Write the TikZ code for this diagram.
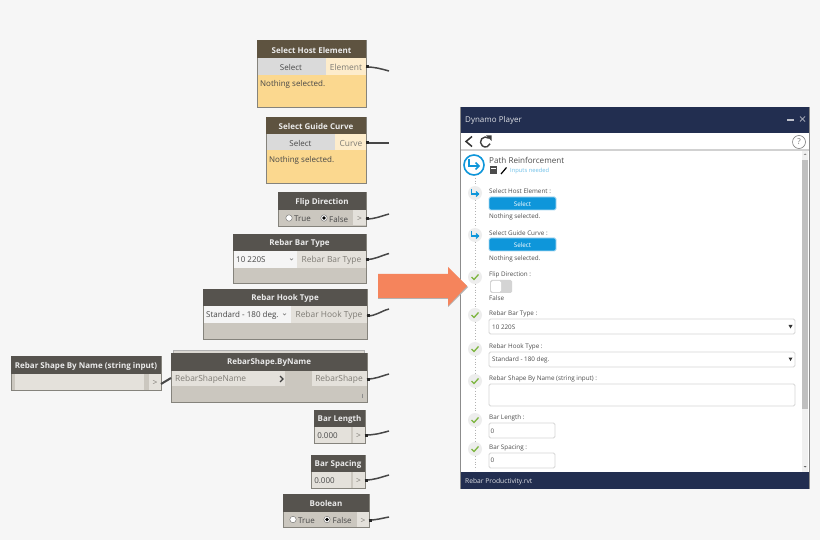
\documentclass[tikz,border=0pt]{standalone}
\usepackage{fontspec}
\setmainfont{Open Sans}
\definecolor{pagebg}{HTML}{F6F6F6}
\definecolor{headdark}{HTML}{56534E}
\definecolor{headbrown}{HTML}{5E5340}
\definecolor{nodebody}{HTML}{CBC7BF}
\definecolor{noderow}{HTML}{E4E1DB}
\definecolor{noteyellow}{HTML}{FBD88F}
\definecolor{portyellow}{HTML}{FDECCB}
\definecolor{btngrey}{HTML}{DADADA}
\definecolor{edgegrey}{HTML}{85837C}
\definecolor{labelgrey}{HTML}{7F7C75}
\definecolor{navy}{HTML}{222E50}
\definecolor{playerblue}{HTML}{0E96DA}
\definecolor{stepgrey}{HTML}{EDEDED}
\definecolor{checkgreen}{HTML}{7DB53F}
\definecolor{arroworange}{HTML}{F5845C}
\tikzset{
  headtext/.style={inner sep=0pt, yshift=-0.8pt, text=white!92!black, font=\fontsize{8}{10}\selectfont\bfseries},
  celltext/.style={inner sep=0pt, yshift=-0.6pt, text=black!72, font=\fontsize{8}{10}\selectfont},
  porttext/.style={inner sep=0pt, yshift=-0.6pt, text=labelgrey, font=\fontsize{8.4}{10}\selectfont},
  uitext/.style={inner sep=0pt, yshift=-0.8pt, anchor=west, text=black!70, font=\fontsize{6.3}{8}\selectfont},
  portdot/.style={inner sep=0pt, minimum width=1pt, minimum height=1pt},
  nodebox/.style={draw=edgegrey, line width=0.8pt},
  wire/.style={draw=black!72, line width=1.5pt},
  radio/.style={draw=black!60, fill=white, line width=0.4pt},
  inputbox/.style={draw=black!16, fill=white, line width=0.8pt, rounded corners=1.5pt},
  bluebtn/.style={fill=playerblue, draw=playerblue!35, line width=0.8pt, rounded corners=1.5pt},
}
\begin{document}
\begin{tikzpicture}[x=1pt, y=-1pt]
  \useasboundingbox (0,0) rectangle (820,540);
  \fill[pagebg] (0,0) rectangle (820,540);

  % select host element
  \draw[nodebox, fill=noteyellow] (257,40) rectangle (366,107);
  \fill[headbrown] (257,40) rectangle (366,58);
  \fill[btngrey] (257.5,58) rectangle (326,75);
  \fill[portyellow] (326,58) rectangle (365.5,75);
  \node[headtext] (hostHead) at (311.5,49.5) {Select Host Element};
  \node[celltext] (hostBtn) at (291,67) {Select};
  \node[porttext] (hostOut) at (346,67) {Element};
  \node[celltext, anchor=west] (hostMsg) at (260,84) {Nothing selected.};

  % select guide curve
  \draw[nodebox, fill=noteyellow] (266,117) rectangle (366,183);
  \fill[headbrown] (266,117) rectangle (366,134);
  \fill[btngrey] (266.5,134) rectangle (335,150);
  \fill[portyellow] (335,134) rectangle (365.5,150);
  \node[headtext] (curveHead) at (316,125.5) {Select Guide Curve};
  \node[celltext] (curveBtn) at (300.5,143) {Select};
  \node[porttext] (curveOut) at (351,143) {Curve};
  \node[celltext, anchor=west] (curveMsg) at (269,160) {Nothing selected.};

  % flip direction
  \draw[nodebox, fill=nodebody] (278,192) rectangle (366,226);
  \fill[headdark] (278,192) rectangle (366,210);
  \fill[noderow] (353,210) rectangle (365.5,225.5);
  \node[headtext] (flipHead) at (322,201.5) {Flip Direction};
  \draw[radio] (289,218) circle (3.2);
  \node[celltext, anchor=west] (flipTrue) at (294,218.5) {True};
  \draw[radio] (324,218) circle (3.2);
  \fill[black] (324,218) circle (1.8);
  \node[celltext, anchor=west] (flipFalse) at (329,218.5) {False};
  \node[porttext] (flipOut) at (359.5,218.5) {>};

  % rebar bar type
  \draw[nodebox, fill=nodebody] (233,234) rectangle (366,283);
  \fill[headdark] (233,234) rectangle (366,251);
  \fill[noderow] (297,251) rectangle (365.5,268);
  \fill[black!4] (233.5,251) rectangle (297,268);
  \node[headtext] (barHead) at (299.5,242.5) {Rebar Bar Type};
  \node[celltext, anchor=west] (barSel) at (236,259.5) {10 220S};
  \draw[black!55, line width=0.6pt] (290,258.5) -- (291.5,260) -- (293,258.5);
  \node[porttext] (barOut) at (331.5,260) {Rebar Bar Type};

  % rebar hook type
  \draw[nodebox, fill=nodebody] (203,289) rectangle (367,339);
  \fill[headdark] (203,289) rectangle (367,306);
  \fill[noderow] (291,306) rectangle (366.5,323);
  \fill[black!4] (203.5,306) rectangle (291,323);
  \node[headtext] (hookHead) at (285,298) {Rebar Hook Type};
  \node[celltext, anchor=west] (hookSel) at (206,314.5) {Standard - 180 deg.};
  \draw[black!55, line width=0.6pt] (283,313.5) -- (284.5,315) -- (286,313.5);
  \node[porttext] (hookOut) at (329,315) {Rebar Hook Type};

  % string input
  \draw[nodebox, fill=nodebody] (11,356) rectangle (161,390);
  \fill[headdark] (11,356) rectangle (161,374);
  \fill[noderow] (15,374) rectangle (144,389.5);
  \fill[noderow] (149,374) rectangle (160.5,389.5);
  \node[headtext] (nameHead) at (86,365.5) {Rebar Shape By Name (string input)};
  \node[porttext] (nameOut) at (155,382.5) {>};

  % rebar shape by name
  \draw[black!30, fill=nodebody!70] (173,350.5) rectangle (364,356);
  \draw[nodebox, fill=nodebody] (171,353) rectangle (367,402);
  \fill[headdark] (171,353) rectangle (367,371);
  \fill[noderow] (171.5,371) rectangle (285,386);
  \fill[noderow] (312,371) rectangle (366.5,386);
  \node[headtext] (shapeHead) at (269,362) {RebarShape.ByName};
  \node[porttext, anchor=west] (shapeIn) at (175,379) {RebarShapeName};
  \node[porttext] (shapeOut) at (339,379) {RebarShape};
  \draw[black!75, line width=1.1pt] (280,376) -- (283,379) -- (280,382);
  \draw[black!45, line width=0.5pt] (362,393.5) -- (362,398);

  % bar length
  \draw[nodebox, fill=nodebody] (314,410) rectangle (365,443);
  \fill[headdark] (314,410) rectangle (365,427);
  \fill[noderow] (314.5,427) rectangle (351,442.5);
  \fill[noderow] (353,427) rectangle (364.5,442.5);
  \node[headtext] (lengthHead) at (339.5,418.5) {Bar Length};
  \node[celltext] (lengthVal) at (327.5,435.5) {0.000};
  \node[porttext] (lengthOut) at (358.5,435.5) {>};

  % bar spacing
  \draw[nodebox, fill=nodebody] (311,455) rectangle (365,488);
  \fill[headdark] (311,455) rectangle (365,472);
  \fill[noderow] (311.5,472) rectangle (351,487.5);
  \fill[noderow] (353,472) rectangle (364.5,487.5);
  \node[headtext] (spacingHead) at (338,463.5) {Bar Spacing};
  \node[celltext] (spacingVal) at (324.5,480.5) {0.000};
  \node[porttext] (spacingOut) at (358.5,480.5) {>};

  % boolean
  \draw[nodebox, fill=nodebody] (283,494) rectangle (369,527);
  \fill[headdark] (283,494) rectangle (369,512);
  \fill[noderow] (357,512) rectangle (368.5,526.5);
  \node[headtext] (boolHead) at (326,503) {Boolean};
  \draw[radio] (293,519.5) circle (3.2);
  \node[celltext, anchor=west] (boolTrue) at (298,520) {True};
  \draw[radio] (327,519.5) circle (3.2);
  \fill[black] (327,519.5) circle (1.8);
  \node[celltext, anchor=west] (boolFalse) at (332.5,520) {False};
  \node[porttext] (boolOut) at (363,520) {>};

  % wires
  \node[portdot] (hostPort) at (366,67) {};
  \node[portdot] (curvePort) at (366,143) {};
  \node[portdot] (flipPort) at (366,219) {};
  \node[portdot] (barPort) at (366,259.5) {};
  \node[portdot] (hookPort) at (367,316) {};
  \node[portdot] (namePort) at (161,384) {};
  \node[portdot] (shapeIn2) at (171,378) {};
  \node[portdot] (shapePort) at (367,379) {};
  \node[portdot] (lengthPort) at (365,435) {};
  \node[portdot] (spacingPort) at (365,480) {};
  \node[portdot] (boolPort) at (369,520) {};
  \coordinate (hostEnd) at (389,71);
  \coordinate (curveEnd) at (389,143);
  \coordinate (flipEnd) at (389,214);
  \coordinate (barEnd) at (389,253.5);
  \coordinate (hookEnd) at (389,309);
  \coordinate (shapeEnd) at (389,374);
  \coordinate (lengthEnd) at (389,431);
  \coordinate (spacingEnd) at (389,475);
  \coordinate (boolEnd) at (389,517);
  \foreach \a/\b/\o/\i in {hostPort/hostEnd/0/165, curvePort/curveEnd/0/180, flipPort/flipEnd/0/195,
      barPort/barEnd/0/195, hookPort/hookEnd/0/195, shapePort/shapeEnd/0/195,
      lengthPort/lengthEnd/0/195, spacingPort/spacingEnd/0/195, boolPort/boolEnd/0/190}{
    \draw[wire] (\a.center) to[out=\o, in=\i] (\b);
    \draw[wire, line width=3pt, black!85] (\a.center) -- ++(2.5,0);
  }
  \draw[wire, line width=2pt] (namePort.center) -- (shapeIn2.center);

  % player window
  \fill[white] (460,107) rectangle (810,489);
  \fill[navy] (460,107) rectangle (810,133);
  \fill[navy] (460,472) rectangle (810,489);
  \fill[black!18] (460,149.5) rectangle (810,151);
  \draw[black!45, line width=0.7pt] (460.3,107) -- (460.3,489);
  \draw[black!45, line width=0.7pt] (809.7,107) -- (809.7,489);
  \node[uitext, text=white!85!navy, font=\fontsize{8}{10}\selectfont] (playerTitle) at (465,119.5) {Dynamo Player};
  \draw[white!70!navy, line width=1.2pt] (787,120) -- (794,120);
  \draw[white!55!navy, line width=0.8pt] (800,116.5) -- (805,121.5) (805,116.5) -- (800,121.5);
  \node[uitext, text=white!85!navy, font=\fontsize{6.7}{8}\selectfont] (playerFile) at (465,481) {Rebar Productivity.rvt};

  % toolbar
  \draw[black!80, line width=1.5pt] (472,136.5) -- (466,141.5) -- (472,146.5);
  \draw[black!75, line width=1.4pt] (485.5,142) ++(-50:5) arc (-50:-340:5);
  \fill[black!75] (486,135.5) -- (491.5,135.5) -- (491.5,141) -- cycle;
  \draw[black!50, line width=0.6pt] (799,142) circle (6.5);
  \node[inner sep=0pt, text=black!55, font=\fontsize{8}{9}\selectfont] (helpMark) at (799,142) {?};

  % scrollbar
  \fill[black!6] (802,151) rectangle (808,472);
  \fill[black!25] (802,160) rectangle (808,409);
  \fill[black!45] (803.5,155) -- (806.5,155) -- (805,153.5) -- cycle;
  \fill[black!60] (803.5,466) -- (806.5,466) -- (805,467.5) -- cycle;

  % script title
  \draw[playerblue, line width=1.6pt] (474,165) circle (10);
  \draw[playerblue, line width=1.6pt] (469,159) -- (469,166) -- (479,166);
  \draw[playerblue, line width=1.6pt] (475.5,162.5) -- (479,166) -- (475.5,169.5);
  \node[uitext, font=\fontsize{8.1}{10}\selectfont] (scriptName) at (489,159.5) {Path Reinforcement};
  \fill[black!70] (490,166.5) rectangle (497,174);
  \fill[white] (491,168) rectangle (496,169);
  \draw[black, line width=1.2pt] (501,174) -- (506.5,167.5);
  \node[uitext, text=playerblue!60, font=\fontsize{5.8}{8}\selectfont] (scriptState) at (510,170) {Inputs needed};

  % steps
  \foreach \ya/\yb in {175/186, 200/228, 242/270, 284/308, 322/342, 356/374, 388/413, 427/442, 456/470}
    \draw[black!30, line width=0.8pt, dotted] (475,\ya) -- (475,\yb);
  \foreach \yc in {193,235}{
    \fill[stepgrey] (475,\yc) circle (7);
    \draw[playerblue, line width=1.3pt] (471.5,\yc-3.5) -- (471.5,\yc+1) -- (478.5,\yc+1);
    \draw[playerblue, line width=1.3pt] (476,\yc-1.5) -- (478.5,\yc+1) -- (476,\yc+3.5);
  }
  \foreach \yc in {277,315,349,381,420,449}{
    \fill[stepgrey] (475,\yc) circle (7);
    \draw[checkgreen, line width=1.3pt] (471.5,\yc) -- (474,\yc+2.5) -- (478.5,\yc-2.5);
  }

  % inputs
  \node[uitext] (hostLbl) at (489,190.5) {Select Host Element :};
  \draw[bluebtn] (489,197) rectangle (556,210);
  \node[uitext, anchor=center, text=white] (hostGo) at (522.5,203) {Select};
  \node[uitext] (hostNote) at (489,216) {Nothing selected.};

  \node[uitext] (curveLbl) at (489,232) {Select Guide Curve :};
  \draw[bluebtn] (489,238) rectangle (556,251);
  \node[uitext, anchor=center, text=white] (curveGo) at (522.5,244.5) {Select};
  \node[uitext] (curveNote) at (489,258) {Nothing selected.};

  \node[uitext] (flipLbl) at (489,274) {Flip Direction :};
  \fill[black!17, rounded corners=1.5pt] (490,280) rectangle (512,293);
  \fill[white, rounded corners=1.5pt] (491,281) rectangle (501,292);
  \node[uitext] (flipVal) at (489,297) {False};

  \node[uitext] (barLbl) at (489,313) {Rebar Bar Type :};
  \draw[inputbox] (489,319) rectangle (795,334);
  \node[uitext] (barVal) at (492,326.5) {10 220S};
  \fill[black!80] (788.5,325) -- (792.5,325) -- (790.5,328.5) -- cycle;

  \node[uitext] (hookLbl) at (489,346) {Rebar Hook Type :};
  \draw[inputbox] (489,352) rectangle (795,367);
  \node[uitext] (hookVal) at (492,359) {Standard - 180 deg.};
  \fill[black!80] (788.5,357.5) -- (792.5,357.5) -- (790.5,361) -- cycle;

  \node[uitext] (nameLbl) at (489,378.5) {Rebar Shape By Name (string input) :};
  \draw[inputbox] (489,384) rectangle (795,406);

  \node[uitext] (lengthLbl) at (489,417) {Bar Length :};
  \draw[inputbox] (489,423) rectangle (555,438);
  \node[uitext] (lengthIn) at (490.5,430) {0};

  \node[uitext] (spacingLbl) at (489,447) {Bar Spacing :};
  \draw[inputbox] (489,453) rectangle (555,468);
  \node[uitext] (spacingIn) at (490.5,459.5) {0};

  % big arrow
  \fill[black!30] (378,275) -- (448,275) -- (448,268) -- (468,287) -- (448,307) -- (448,299) -- (378,299) -- cycle;
  \fill[arroworange] (378,274) -- (448,274) -- (448,267) -- (467,286) -- (448,306) -- (448,298) -- (378,298) -- cycle;
\end{tikzpicture}
\end{document}
